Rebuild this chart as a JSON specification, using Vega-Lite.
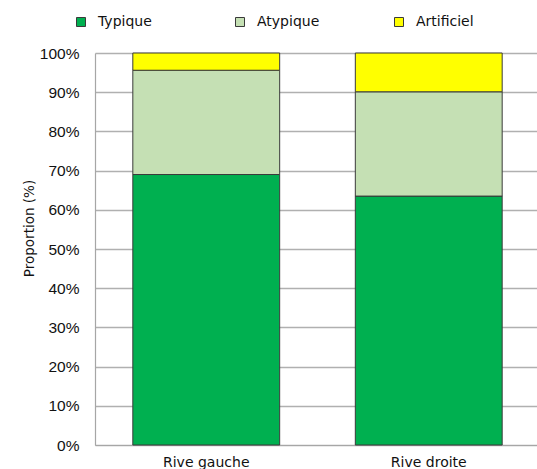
{
  "$schema": "https://vega.github.io/schema/vega-lite/v6.json",
  "autosize": "none",
  "width": 445,
  "height": 392,
  "padding": {"left": 95, "top": 53, "right": 0, "bottom": 24},
  "background": "white",
  "data": {
    "values": [
      {"rive": "Rive gauche", "type": "Typique", "ordre": 1, "valeur": 0.690},
      {"rive": "Rive gauche", "type": "Atypique", "ordre": 2, "valeur": 0.266},
      {"rive": "Rive gauche", "type": "Artificiel", "ordre": 3, "valeur": 0.044},
      {"rive": "Rive droite", "type": "Typique", "ordre": 1, "valeur": 0.635},
      {"rive": "Rive droite", "type": "Atypique", "ordre": 2, "valeur": 0.266},
      {"rive": "Rive droite", "type": "Artificiel", "ordre": 3, "valeur": 0.099}
    ]
  },
  "mark": {"type": "bar", "stroke": "#3a3a3a", "strokeWidth": 1},
  "encoding": {
    "x": {
      "field": "rive",
      "type": "nominal",
      "sort": ["Rive gauche", "Rive droite"],
      "scale": {"paddingInner": 0.34, "paddingOuter": 0.17},
      "axis": {
        "title": null,
        "labelAngle": 0,
        "labelFont": "DejaVu Sans",
        "labelFontSize": 14,
        "labelColor": "#111",
        "labelPadding": 10,
        "ticks": false,
        "domainColor": "#a6a6a6",
        "domainWidth": 1.2
      }
    },
    "y": {
      "field": "valeur",
      "type": "quantitative",
      "stack": "zero",
      "scale": {"domain": [0, 1], "nice": false},
      "axis": {
        "title": "Proportion (%)",
        "titleFont": "DejaVu Sans",
        "titleFontSize": 13.5,
        "titleFontWeight": "normal",
        "titleColor": "#111",
        "titleAngle": 270,
        "titleAlign": "center",
        "titleBaseline": "middle",
        "titleX": -66,
        "titleY": 175,
        "values": [0, 0.1, 0.2, 0.3, 0.4, 0.5, 0.6, 0.7, 0.8, 0.9, 1],
        "format": ".0%",
        "labelFont": "Liberation Sans",
        "labelFontSize": 15.5,
        "labelColor": "#111",
        "labelPadding": 16,
        "ticks": false,
        "grid": true,
        "gridColor": "#b0b0b0",
        "gridWidth": 1.3,
        "domainColor": "#a6a6a6",
        "domainWidth": 1.2
      }
    },
    "color": {
      "field": "type",
      "type": "nominal",
      "scale": {
        "domain": ["Typique", "Atypique", "Artificiel"],
        "range": ["#00B050", "#C5E0B4", "#FFFF00"]
      },
      "legend": {
        "title": null,
        "orient": "none",
        "direction": "horizontal",
        "columns": 3,
        "gridAlign": "all",
        "columnPadding": 72,
        "legendX": -21,
        "legendY": -38,
        "symbolType": "square",
        "symbolSize": 81,
        "symbolStrokeColor": "#3a3a3a",
        "symbolStrokeWidth": 1,
        "labelFont": "DejaVu Sans",
        "labelFontSize": 14,
        "labelColor": "#111",
        "labelOffset": 10
      }
    },
    "order": {"field": "ordre", "type": "quantitative"}
  },
  "config": {"view": {"stroke": null}}
}
